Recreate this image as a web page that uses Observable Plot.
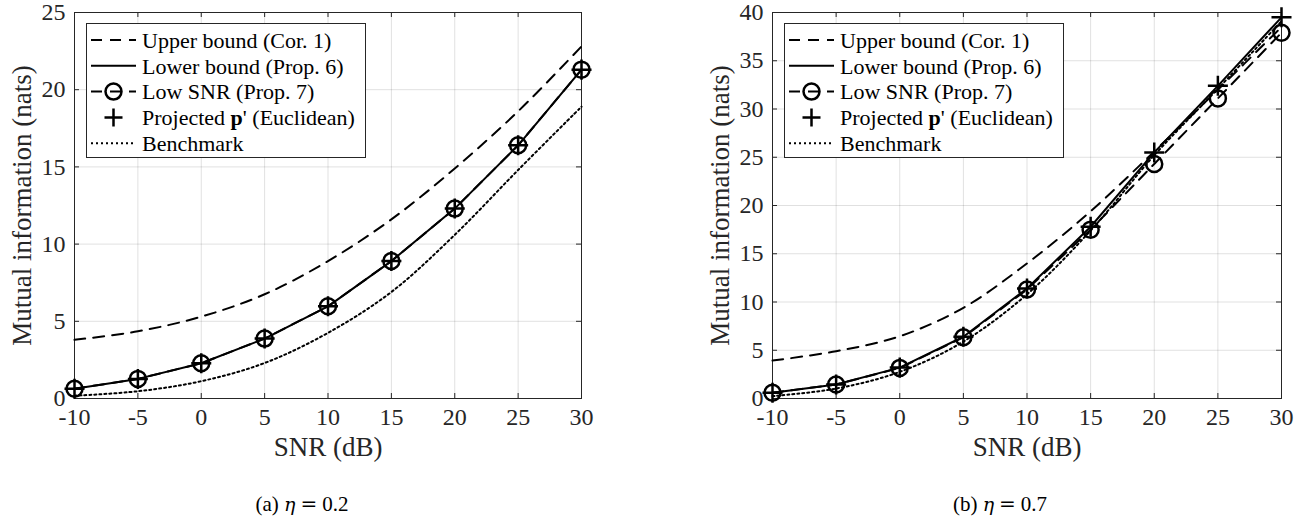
<!DOCTYPE html>
<html><head><meta charset="utf-8">
<script src="https://cdn.jsdelivr.net/npm/d3@7"></script>
<script src="https://cdn.jsdelivr.net/npm/@observablehq/plot@0.6"></script>
<style>
body{margin:0;background:#fff;}
#wrap{position:relative;width:1310px;height:516px;overflow:hidden;font-family:"Liberation Serif","Times New Roman",serif;background:#fff;}
.panel{position:absolute;top:0;}
.cap{position:absolute;font-size:21px;color:#000;transform:translate(-50%,-50%);white-space:nowrap;font-family:"Liberation Serif",serif;}
.cap i{font-family:"DejaVu Serif",serif;font-style:italic;font-size:19px;}
.cap .eq{font-family:"DejaVu Serif",serif;font-size:20px;padding:0 5px;}
</style></head><body>
<div id="wrap"></div>
<script>
// ---- data ----
const snr = [-10, -5, 0, 5, 10, 15, 20, 25, 30];
const xTicks = [-10, -5, 0, 5, 10, 15, 20, 25, 30];
const yTicksA = [0, 5, 10, 15, 20, 25];
const yTicksB = [0, 5, 10, 15, 20, 25, 30, 35, 40];

// (a) eta = 0.2
const upperA  = [3.8, 4.35, 5.3, 6.75, 8.9, 11.6, 14.9, 18.6, 22.8];
const lowerA  = [0.63, 1.27, 2.28, 3.88, 5.97, 8.9, 12.3, 16.4, 21.3];
const lowSnrA = [0.63, 1.27, 2.28, 3.88, 5.97, 8.9, 12.3, 16.4, 21.3];
const projA   = [0.63, 1.27, 2.28, 3.88, 5.97, 8.9, 12.3, 16.4, 21.3];
const benchA  = [0.18, 0.47, 1.12, 2.3, 4.25, 6.9, 10.6, 14.8, 18.9];

// (b) eta = 0.7
const upperB  = [3.93, 4.9, 6.45, 9.4, 14.0, 19.4, 25.6, 32.0, 38.5];
const lowerB  = [0.6, 1.45, 3.2, 6.4, 11.4, 17.8, 25.5, 32.4, 39.5];
const lowSnrB = [0.6, 1.45, 3.17, 6.34, 11.3, 17.5, 24.3, 31.1, 37.9];
const projB   = [0.6, 1.45, 3.2, 6.4, 11.4, 17.8, 25.5, 32.4, 39.5];
const benchB  = [0.25, 1.03, 2.76, 5.9, 10.8, 17.4, 25.2, 32.1, 39.1];

const legendLabels = ["Upper bound (Cor. 1)", "Lower bound (Prop. 6)", "Low SNR (Prop. 7)", "Projected |p|' (Euclidean)", "Benchmark"];
const xLabel = "SNR (dB)";
const yLabel = "Mutual information (nats)";
const captions = [["(a) ", "η", "=", "0.2"], ["(b) ", "η", "=", "0.7"]];

// ---- styling ----
const FONT = "Liberation Serif, Times New Roman, serif";
const INK = "#262626";
const DASH = "11,8";
const DOT = "2,3";
const W = 655, H = 480;

function toRows(vals) { return snr.map((s, i) => ({x: s, y: vals[i]})); }

function panel(cfg) {
  const innerW = W - cfg.ml - cfg.mr;
  const innerH = H - 12 - 82;
  const svg = Plot.plot({
    width: W, height: H,
    marginLeft: cfg.ml, marginRight: cfg.mr, marginTop: 12, marginBottom: 82,
    style: {fontFamily: FONT, fontSize: "24px", color: INK, background: "transparent", overflow: "visible"},
    x: {domain: [-10, 30]},
    y: {domain: [0, cfg.ymax]},
    marks: [
      Plot.gridX(xTicks, {stroke: "#000", strokeOpacity: 0.12, strokeWidth: 1}),
      Plot.gridY(cfg.yTicks, {stroke: "#000", strokeOpacity: 0.12, strokeWidth: 1}),
      // inward ticks on all four sides
      Plot.tickX(xTicks, {x: d => d, insetTop: innerH - 5, stroke: INK}),
      Plot.tickX(xTicks, {x: d => d, insetBottom: innerH - 5, stroke: INK}),
      Plot.tickY(cfg.yTicks, {y: d => d, insetRight: innerW - 5, stroke: INK}),
      Plot.tickY(cfg.yTicks, {y: d => d, insetLeft: innerW - 5, stroke: INK}),
      Plot.frame({stroke: INK, strokeWidth: 1}),
      Plot.axisX(xTicks, {tickSize: 0, tickPadding: 9, tickFormat: d => String(d), label: null, fontSize: 24}),
      Plot.axisY(cfg.yTicks, {tickSize: 0, tickPadding: 9, tickFormat: d => String(d), label: null, fontSize: 24}),
      Plot.text([xLabel], {frameAnchor: "bottom", dy: 57, fontSize: 27, fill: INK, textAnchor: "middle"}),
      Plot.text([yLabel], {frameAnchor: "left", rotate: -90, dx: -52, fontSize: 27, fill: INK, textAnchor: "middle"}),
      // series
      Plot.line(toRows(cfg.upper), {x: "x", y: "y", stroke: "#000", strokeWidth: 2, strokeDasharray: DASH, curve: "catmull-rom"}),
      Plot.line(toRows(cfg.lower), {x: "x", y: "y", stroke: "#000", strokeWidth: 2}),
      Plot.line(toRows(cfg.lowSnr), {x: "x", y: "y", stroke: "#000", strokeWidth: 2, strokeDasharray: DASH}),
      Plot.dot(toRows(cfg.lowSnr), {x: "x", y: "y", r: 8, stroke: "#000", strokeWidth: 2.5, fill: "none"}),
      Plot.dot(toRows(cfg.proj), {x: "x", y: "y", symbol: "plus", r: 6.5, stroke: "#000", strokeWidth: 2.5, fill: "none"}),
      Plot.line(toRows(cfg.bench), {x: "x", y: "y", stroke: "#000", strokeWidth: 2, strokeDasharray: DOT, curve: "catmull-rom"})
    ]
  });
  addLegend(svg, cfg.ml + 12, 23);
  svg.classList.add("panel");
  svg.style.left = cfg.left + "px";
  return svg;
}

function addLegend(svg, x0, y0) {
  const g = d3.select(svg).append("g");
  const w = 279, h = 134;
  g.append("rect").attr("x", x0 + 0.5).attr("y", y0 + 0.5).attr("width", w).attr("height", h)
    .attr("fill", "#fff").attr("stroke", INK).attr("stroke-width", 1);
  const sx0 = x0 + 5, sx1 = x0 + 50, sxm = (sx0 + sx1) / 2, tx = x0 + 56;
  legendLabels.forEach((lab, i) => {
    const cy = y0 + 17 + i * 25.8;
    if (i === 0 || i === 1 || i === 2 || i === 4) {
      g.append("line").attr("x1", sx0).attr("x2", sx1).attr("y1", cy).attr("y2", cy)
        .attr("stroke", "#000").attr("stroke-width", 2)
        .attr("stroke-dasharray", i === 1 ? null : (i === 4 ? DOT : DASH));
    }
    if (i === 2) {
      g.append("circle").attr("cx", sxm).attr("cy", cy).attr("r", 8).attr("fill", "none").attr("stroke", "#000").attr("stroke-width", 2.5);
    }
    if (i === 3) {
      g.append("path").attr("d", `M${sxm - 9},${cy}H${sxm + 9}M${sxm},${cy - 9}V${cy + 9}`).attr("stroke", "#000").attr("stroke-width", 2.5);
    }
    const t = g.append("text").attr("x", tx).attr("y", cy).attr("dy", "0.35em")
      .attr("text-anchor", "start")
      .attr("font-family", FONT).attr("font-size", 22).attr("fill", "#000");
    const parts = lab.split("|");
    parts.forEach((p, k) => {
      const ts = t.append("tspan").text(p);
      if (k === 1) ts.attr("font-weight", "bold");
    });
  });
}

const wrap = document.getElementById("wrap");
wrap.appendChild(panel({left: 0, ml: 74, mr: 74, ymax: 25, yTicks: yTicksA,
  upper: upperA, lower: lowerA, lowSnr: lowSnrA, proj: projA, bench: benchA}));
wrap.appendChild(panel({left: 655, ml: 117, mr: 29, ymax: 40, yTicks: yTicksB,
  upper: upperB, lower: lowerB, lowSnr: lowSnrB, proj: projB, bench: benchB}));

[[302, 504], [1000, 504]].forEach(([cx, cy], i) => {
  const d = document.createElement("div");
  d.className = "cap";
  d.style.left = cx + "px";
  d.style.top = cy + "px";
  const c = captions[i];
  d.innerHTML = c[0] + "<i>" + c[1] + "</i><span class='eq'>" + c[2] + "</span>" + c[3];
  wrap.appendChild(d);
});
</script>
</body></html>
